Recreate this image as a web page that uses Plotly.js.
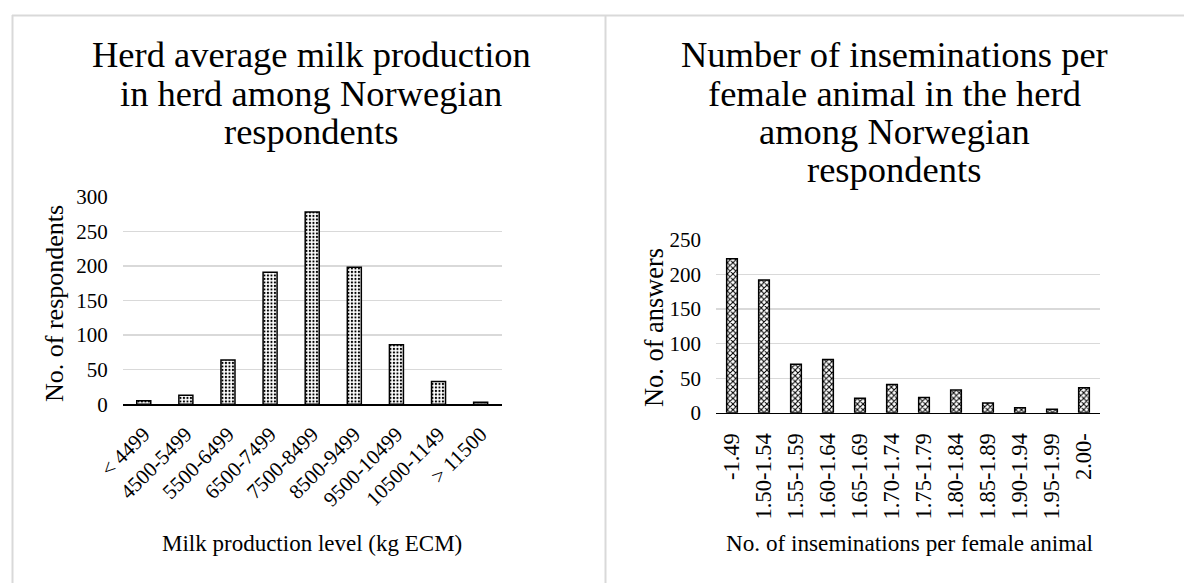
<!DOCTYPE html>
<html>
<head>
<meta charset="utf-8">
<script src="https://cdn.plot.ly/plotly-3.0.1.min.js"></script>
<style>html,body{margin:0;padding:0;background:#fff;}#chart{width:1184px;height:583px;}</style>
</head>
<body>
<div id="chart"></div>
<script>
// ---- data ----
const milkCategories = ["< 4499", "4500-5499", "5500-6499", "6500-7499", "7500-8499", "8500-9499", "9500-10499", "10500-1149", "> 11500"];
const milkValues = [5, 13, 64, 191, 278, 198, 86, 33, 3];
const insemCategories = ["-1.49", "1.50-1.54", "1.55-1.59", "1.60-1.64", "1.65-1.69", "1.70-1.74", "1.75-1.79", "1.80-1.84", "1.85-1.89", "1.90-1.94", "1.95-1.99", "2.00-"];
const insemValues = [223, 192, 70, 77, 21, 41, 22, 33, 14, 7, 5, 36];
const milkTitleLines = ["Herd average milk production", "in herd among Norwegian", "respondents"];
const insemTitleLines = ["Number of inseminations per", "female animal in the herd", "among Norwegian", "respondents"];
const milkYTitle = "No. of respondents";
const milkXTitle = "Milk production level (kg ECM)";
const insemYTitle = "No. of answers";
const insemXTitle = "No. of inseminations per female animal";

const W = 1184, H = 583;
const FONT = "Liberation Serif, Times New Roman, serif";
const px = x => x / W;
const py = y => 1 - y / H;

const traces = [
  {
    type: "bar", x: milkCategories, y: milkValues, xaxis: "x", yaxis: "y",
    marker: {color: "#ffffff", line: {color: "#000", width: 1.5},
      pattern: {shape: ".", fgcolor: "#000", bgcolor: "#fff", size: 3.5, solidity: 0.3}},
    hoverinfo: "skip"
  },
  {
    type: "bar", x: insemCategories, y: insemValues, xaxis: "x2", yaxis: "y2",
    marker: {color: "#ffffff", line: {color: "#000", width: 1.5},
      pattern: {shape: "x", fgcolor: "#000", bgcolor: "#fff", size: 4, solidity: 0.45}},
    hoverinfo: "skip"
  }
];

const ann = [];
milkTitleLines.forEach((t, i) => ann.push({text: t, xref: "paper", yref: "paper", x: px(311), y: py(55 + 38 * i),
  xanchor: "center", yanchor: "middle", showarrow: false, font: {family: FONT, size: 36.5, color: "#000"}}));
insemTitleLines.forEach((t, i) => ann.push({text: t, xref: "paper", yref: "paper", x: px(894), y: py(55 + 38.3 * i),
  xanchor: "center", yanchor: "middle", showarrow: false, font: {family: FONT, size: 36.5, color: "#000"}}));
ann.push({text: milkYTitle, xref: "paper", yref: "paper", x: px(54), y: py(304), textangle: -90,
  xanchor: "center", yanchor: "middle", showarrow: false, font: {family: FONT, size: 26, color: "#000"}});
ann.push({text: insemYTitle, xref: "paper", yref: "paper", x: px(654), y: py(328), textangle: -90,
  xanchor: "center", yanchor: "middle", showarrow: false, font: {family: FONT, size: 26.4, color: "#000"}});
ann.push({text: milkXTitle, xref: "paper", yref: "paper", x: px(312), y: py(543),
  xanchor: "center", yanchor: "middle", showarrow: false, font: {family: FONT, size: 23, color: "#000"}});
ann.push({text: insemXTitle, xref: "paper", yref: "paper", x: px(909), y: py(543),
  xanchor: "center", yanchor: "middle", showarrow: false, font: {family: FONT, size: 23.2, color: "#000"}});

const border = {color: "#d9d9d9", width: 2};
const shapes = [
  {type: "line", xref: "paper", yref: "paper", x0: px(12), x1: 1, y0: py(15.5), y1: py(15.5), line: border},
  {type: "line", xref: "paper", yref: "paper", x0: px(12.5), x1: px(12.5), y0: py(15), y1: 0, line: border},
  {type: "line", xref: "paper", yref: "paper", x0: px(605.5), x1: px(605.5), y0: py(15), y1: 0, line: border}
];

const layout = {
  width: W, height: H, margin: {l: 0, r: 0, t: 0, b: 0},
  paper_bgcolor: "#fff", plot_bgcolor: "#fff", showlegend: false,
  bargap: 0.667,
  font: {family: FONT, color: "#000"},
  xaxis: {domain: [px(122.7), px(501.7)], anchor: "y", type: "category", tickangle: -45,
    showline: true, linecolor: "#000", linewidth: 1.5, showgrid: false, ticks: "",
    tickfont: {family: FONT, size: 21, color: "#000"},
    ticklabelstandoff: 8, automargin: false, fixedrange: true},
  yaxis: {domain: [py(404.3), py(196.7)], anchor: "x", range: [0, 300], dtick: 50, tick0: 0,
    showgrid: true, gridcolor: "#d9d9d9", gridwidth: 1.3, zeroline: false, showline: false, ticks: "",
    tickfont: {family: FONT, size: 21, color: "#000"}, ticklabelstandoff: 14, automargin: false, fixedrange: true},
  xaxis2: {domain: [px(716), px(1100)], anchor: "y2", type: "category", tickangle: -90,
    showline: true, linecolor: "#000", linewidth: 1.5, showgrid: false, ticks: "",
    tickfont: {family: FONT, size: 22.5, color: "#000"},
    ticklabelstandoff: 10, automargin: false, fixedrange: true},
  yaxis2: {domain: [py(412.7), py(240)], anchor: "x2", range: [0, 250], dtick: 50, tick0: 0,
    showgrid: true, gridcolor: "#d9d9d9", gridwidth: 1.3, zeroline: false, showline: false, ticks: "",
    tickfont: {family: FONT, size: 21, color: "#000"}, ticklabelstandoff: 14, automargin: false, fixedrange: true},
  annotations: ann,
  shapes: shapes
};

Plotly.newPlot("chart", traces, layout, {staticPlot: true, displayModeBar: false});
</script>
</body>
</html>
